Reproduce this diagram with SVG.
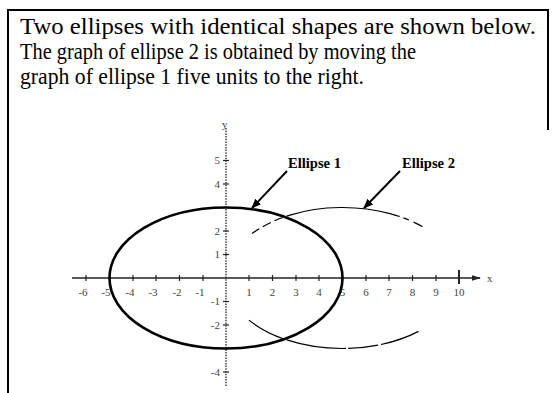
<svg xmlns="http://www.w3.org/2000/svg" width="553" height="393" viewBox="0 0 553 393">
<defs>
<style>
.frame{stroke:#000;stroke-width:2;fill:none}
.body{font-family:"Liberation Serif","Times New Roman",serif;font-size:23px;fill:#000}
.lbl{font-family:"Liberation Serif","Times New Roman",serif;font-size:14px;font-weight:bold;fill:#000}
.tick{font-family:"Liberation Serif","Times New Roman",serif;font-size:11px;fill:#444}
.axis{stroke:#222;stroke-width:1.3;fill:none}
.yaxis{stroke:#222;stroke-width:1.3;stroke-dasharray:1.5 1.2;fill:none}
.tk{stroke:#222;stroke-width:1.2}
.e1{stroke:#000;stroke-width:2.6;fill:none}
.e2{stroke:#000;stroke-width:1.2;fill:none}
.ptr{stroke:#000;stroke-width:2}
</style>
<marker id="ah" viewBox="0 0 10 10" refX="9" refY="5" markerWidth="5" markerHeight="5" orient="auto" markerUnits="strokeWidth">
<path d="M0,1 L10,5 L0,9 Z" fill="#000"/>
</marker>
<marker id="ax" viewBox="0 0 10 10" refX="9" refY="5" markerWidth="7" markerHeight="7" orient="auto" markerUnits="strokeWidth">
<path d="M0,2 L10,5 L0,8 Z" fill="#222"/>
</marker>
</defs>
<rect width="553" height="393" fill="#fff"/>
<g id="frame">
<path class="frame" d="M8,393 V10 H548 V130"/>
</g>
<g id="statement">
<text class="body" x="20" y="34" textLength="516" lengthAdjust="spacingAndGlyphs">Two ellipses with identical shapes are shown below.</text>
<text class="body" x="20" y="59" textLength="396" lengthAdjust="spacingAndGlyphs">The graph of ellipse 2 is obtained by moving the</text>
<text class="body" x="20" y="84" textLength="344" lengthAdjust="spacingAndGlyphs">graph of ellipse 1 five units to the right.</text>
</g>
<g id="axes">
<line class="axis" x1="72" y1="278" x2="480" y2="278" marker-end="url(#ax)"/>
<line class="yaxis" x1="226" y1="128" x2="226" y2="386"/>
<g class="tk">
<line x1="86" y1="275" x2="86" y2="281"/><line x1="109.5" y1="275" x2="109.5" y2="281"/><line x1="133" y1="275" x2="133" y2="281"/><line x1="156" y1="275" x2="156" y2="281"/><line x1="179.5" y1="275" x2="179.5" y2="281"/><line x1="203" y1="275" x2="203" y2="281"/><line x1="249" y1="275" x2="249" y2="281"/><line x1="272.5" y1="275" x2="272.5" y2="281"/><line x1="296" y1="275" x2="296" y2="281"/><line x1="319" y1="275" x2="319" y2="281"/><line x1="342.5" y1="275" x2="342.5" y2="281"/><line x1="366" y1="275" x2="366" y2="281"/><line x1="389" y1="275" x2="389" y2="281"/><line x1="412.5" y1="275" x2="412.5" y2="281"/><line x1="436" y1="275" x2="436" y2="281"/><line x1="459" y1="270" x2="459" y2="284" stroke-width="2"/>
<line x1="223" y1="160.5" x2="229" y2="160.5"/><line x1="223" y1="184" x2="229" y2="184"/><line x1="223" y1="231" x2="229" y2="231"/><line x1="223" y1="254.5" x2="229" y2="254.5"/><line x1="223" y1="301.5" x2="229" y2="301.5"/><line x1="223" y1="325" x2="229" y2="325"/><line x1="223" y1="372" x2="229" y2="372"/>
</g>
<text class="tick" x="487" y="282">x</text>
<text class="tick" x="222" y="128">y</text>
<g text-anchor="middle">
<text class="tick" x="83" y="296">-6</text><text class="tick" x="106" y="296">-5</text><text class="tick" x="130" y="296">-4</text><text class="tick" x="153" y="296">-3</text><text class="tick" x="177" y="296">-2</text><text class="tick" x="200" y="296">-1</text>
<text class="tick" x="249" y="296">1</text><text class="tick" x="272.5" y="296">2</text><text class="tick" x="296" y="296">3</text><text class="tick" x="319" y="296">4</text><text class="tick" x="342.5" y="296">5</text><text class="tick" x="366" y="296">6</text><text class="tick" x="389" y="296">7</text><text class="tick" x="412.5" y="296">8</text><text class="tick" x="436" y="296">9</text><text class="tick" x="459" y="296">10</text>
</g>
<g text-anchor="end">
<text class="tick" x="220" y="164">5</text><text class="tick" x="220" y="188">4</text><text class="tick" x="220" y="235">2</text><text class="tick" x="220" y="258">1</text><text class="tick" x="220" y="305">-1</text><text class="tick" x="220" y="329">-2</text><text class="tick" x="220" y="376">-4</text>
</g>
</g>
<g id="ellipse1">
<ellipse class="e1" cx="226" cy="278" rx="116.5" ry="70.5"/>
</g>
<g id="ellipse2">
<path class="e2" d="M252,233.6 A116.5,70.5 0 0 1 290,215.1" stroke-dasharray="9 4"/>
<path class="e2" d="M290,215.1 A116.5,70.5 0 0 1 390,213.6"/>
<path class="e2" d="M390,213.6 A116.5,70.5 0 0 1 425,228.2" stroke-dasharray="10 4 6 5"/>
<path class="e2" d="M249,320.1 A116.5,70.5 0 0 0 427,326.5" stroke-dasharray="40 3 60 2 30 3 40"/>
</g>
<g id="labels">
<text class="lbl" x="288" y="168" textLength="53" lengthAdjust="spacingAndGlyphs">Ellipse 1</text>
<text class="lbl" x="402" y="168" textLength="53" lengthAdjust="spacingAndGlyphs">Ellipse 2</text>
</g>
<g id="connectors">
<line class="ptr" x1="287" y1="171" x2="252" y2="208" marker-end="url(#ah)"/>
<line class="ptr" x1="400" y1="171" x2="364" y2="208" marker-end="url(#ah)"/>
</g>
</svg>
